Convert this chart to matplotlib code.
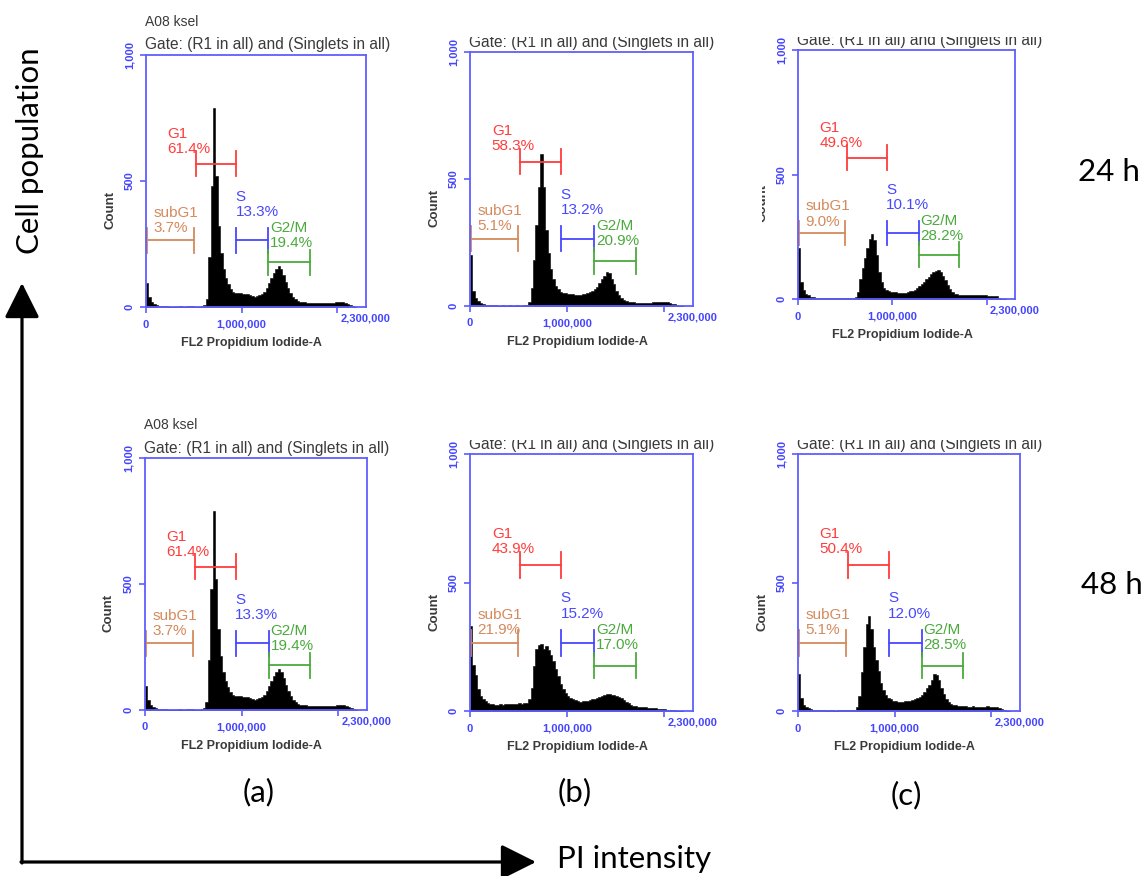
import numpy as np
import matplotlib.pyplot as plt
from matplotlib.transforms import Bbox, TransformedBbox

W, H = 1145, 876

# histogram bins: 25,000 wide, 0 .. 2,200,000
edges = np.arange(0, 2200001, 25000)

# counts per bin
hist_a = [95, 40, 18, 10, 6, 4, 3, 2, 2, 1,
          1, 1, 1, 1, 2, 1, 1, 2, 5, 2,
          1, 1, 1, 2, 6, 30, 200, 480, 790, 520,
          320, 215, 150, 115, 90, 70, 58, 55, 57, 55,
          52, 50, 52, 46, 44, 41, 43, 46, 50, 60,
          75, 95, 115, 135, 152, 163, 150, 128, 100, 75,
          55, 40, 30, 24, 21, 19, 18, 17, 16, 16,
          15, 15, 14, 15, 14, 15, 15, 16, 17, 19,
          20, 21, 19, 16, 11, 6, 2, 0]

hist_b24 = [200, 60, 30, 20, 12, 8, 5, 3, 2, 2,
            2, 1, 1, 2, 1, 1, 2, 1, 1, 2,
            1, 1, 2, 3, 15, 70, 180, 320, 470, 600,
            470, 300, 210, 145, 105, 80, 65, 56, 52, 50,
            49, 48, 46, 44, 43, 44, 46, 48, 50, 55,
            60, 66, 75, 90, 105, 120, 132, 128, 105, 85,
            60, 42, 30, 24, 19, 16, 15, 14, 13, 13,
            12, 13, 12, 13, 13, 14, 14, 15, 16, 16,
            15, 14, 12, 9, 6, 3, 1, 0]

hist_c24 = [205, 68, 35, 22, 15, 10, 8, 6, 5, 5,
            4, 5, 4, 4, 5, 4, 4, 5, 4, 4,
            4, 5, 4, 5, 8, 30, 80, 125, 165, 205,
            240, 262, 235, 175, 110, 70, 45, 36, 31, 29,
            28, 27, 26, 25, 25, 26, 28, 31, 34, 38,
            44, 52, 60, 70, 80, 90, 100, 108, 114, 117,
            110, 92, 75, 55, 40, 28, 22, 19, 17, 16,
            16, 16, 15, 16, 16, 15, 16, 16, 15, 15,
            14, 14, 13, 13, 11, 4, 0, 0]

hist_b48 = [330, 180, 140, 85, 60, 48, 38, 30, 27, 26,
            25, 24, 26, 25, 27, 26, 28, 27, 29, 28,
            30, 28, 30, 32, 45, 90, 175, 240, 255, 262,
            240, 252, 238, 218, 195, 165, 135, 105, 85, 70,
            60, 52, 46, 41, 38, 36, 37, 38, 40, 42,
            45, 48, 52, 56, 60, 63, 65, 66, 64, 63,
            60, 56, 50, 42, 35, 30, 25, 21, 19, 17,
            16, 15, 14, 13, 12, 11, 10, 9, 8, 7,
            6, 5, 4, 3, 2, 1, 0, 0]

hist_c48 = [145, 50, 25, 15, 10, 6, 4, 3, 2, 2,
            2, 2, 1, 2, 2, 1, 2, 2, 3, 2,
            2, 2, 2, 3, 15, 60, 150, 250, 340, 368,
            320, 250, 200, 155, 110, 80, 62, 52, 46, 40,
            37, 36, 35, 36, 37, 38, 40, 42, 45, 50,
            56, 64, 75, 88, 100, 120, 145, 140, 120, 90,
            65, 48, 36, 28, 24, 22, 20, 19, 18, 18,
            17, 17, 18, 17, 17, 16, 17, 17, 18, 17,
            17, 16, 15, 12, 8, 3, 0, 0]

# gate percentages: subG1, G1, S, G2/M
pct_a = [3.7, 61.4, 13.3, 19.4]
pct_b24 = [5.1, 58.3, 13.2, 20.9]
pct_c24 = [9.0, 49.6, 10.1, 28.2]
pct_b48 = [21.9, 43.9, 15.2, 17.0]
pct_c48 = [5.1, 50.4, 12.0, 28.5]

gate_names = ['subG1', 'G1', 'S', 'G2/M']
gate_lo = [10000, 520000, 940000, 1280000]
gate_hi = [500000, 940000, 1280000, 1710000]
gate_y = [265, 568, 265, 177]
gate_colors = ['#d48a5c', '#ff3c3c', '#4848ff', '#4aaa3c']
label_x = [75000, 225000, 935000, 1300000]
label_top = [400, 715, 465, 342]

sample_name = 'A08 ksel'
gate_title = 'Gate: (R1 in all) and (Singlets in all)'

frame_blue = '#5e5eff'
tick_blue = '#4444ff'
gray = '#3a3a3a'
FONT = 'Liberation Sans'

fig = plt.figure(figsize=(W / 100, H / 100), dpi=100)


def clip_box(top=None, left=None):
    y1 = 1.0 if top is None else 1 - top / H
    x0 = 0.0 if left is None else left / W
    return TransformedBbox(Bbox.from_extents(x0, 0, 1, y1), fig.transFigure)


def draw_panel(box, counts, pct, show_name, clip_top, clip_left):
    l, t, r, b = box
    ax = fig.add_axes([l / W, 1 - b / H, (r - l) / W, (b - t) / H])
    # step outline as one filled polygon
    xs = np.repeat(edges, 2)[1:-1]
    ys = np.repeat(np.asarray(counts, dtype=float), 2)
    ax.fill_between(xs, ys, 0, facecolor='black', edgecolor='black', lw=0.4)
    ax.set_xlim(0, 2300000)
    ax.set_ylim(0, 1000)
    for s in ax.spines.values():
        s.set_color(frame_blue)
        s.set_linewidth(1.3)
    ax.set_xticks([0, 1000000, 2000000], ['0', '1,000,000', ''])
    ax.set_xticks([2300000], ['2,300,000'], minor=True)
    ax.set_yticks([0, 500, 1000], ['0', '500', '1,000'])
    ax.tick_params(which='both', colors=frame_blue, labelcolor=tick_blue,
                   labelsize=8, length=4, width=1.2)
    ax.tick_params(axis='x', which='minor', length=0)
    ax.tick_params(axis='x', which='both', pad=5)
    ax.tick_params(axis='y', pad=4)
    for lbl in ax.get_xticklabels() + ax.get_xticklabels(minor=True):
        lbl.set_fontweight('bold')
        lbl.set_family(FONT)
    for lbl in ax.get_yticklabels():
        lbl.set_rotation(90)
        lbl.set_va('center')
        lbl.set_ha('right')
        lbl.set_fontweight('bold')
        lbl.set_family(FONT)

    wpx, hpx = r - l, b - t
    cnt = ax.text(-36 / wpx, 0.385, 'Count', transform=ax.transAxes, rotation=90,
                  ha='center', va='center', fontsize=9.5, fontweight='bold',
                  color=gray, family=FONT)
    ax.text(0.48, -36 / hpx, 'FL2 Propidium Iodide-A', transform=ax.transAxes,
            ha='center', va='center', fontsize=9, fontweight='bold',
            color=gray, family=FONT)

    for i in range(4):
        c = gate_colors[i]
        ax.plot([gate_lo[i], gate_hi[i]], [gate_y[i], gate_y[i]], color=c, lw=1.3)
        for xe in (gate_lo[i], gate_hi[i]):
            ax.plot([xe, xe], [gate_y[i] - 50, gate_y[i] + 50], color=c, lw=1.3)
        ax.text(label_x[i], label_top[i], f'{gate_names[i]}\n{pct[i]:.1f}%',
                color=c, ha='left', va='top', fontsize=11, family=FONT,
                linespacing=1.1)

    title = fig.text((l - 1) / W, 1 - (t - 10) / H, gate_title, ha='left', va='center',
                     fontsize=11.2, color=gray, family=FONT)
    if show_name:
        fig.text((l - 1) / W, 1 - (t - 33) / H, sample_name, ha='left', va='center',
                 fontsize=10, color=gray, family=FONT)
    if clip_top is not None or clip_left is not None:
        cb = clip_box(clip_top, clip_left)
        for art in [title, cnt] + ax.get_yticklabels():
            art.set_clip_box(cb)
            art.set_clip_on(True)
    return ax


# (left, top, right, bottom) of each plot box in pixels, plus crop edges
boxes = [(146, 55, 366, 307), (470, 52, 693, 306), (798, 50, 1015, 299),
         (145, 458, 367, 710), (470, 454, 693, 711), (798, 454, 1020, 711)]
crops = [(None, None), (37, None), (37, 762), (None, None), (440, None), (440, None)]
hists = [hist_a, hist_b24, hist_c24, hist_a, hist_b48, hist_c48]
pcts = [pct_a, pct_b24, pct_c24, pct_a, pct_b48, pct_c48]
names = [True, False, False, True, False, False]

for i in range(6):
    draw_panel(boxes[i], hists[i], pcts[i], names[i], crops[i][0], crops[i][1])

# overlay for the big arrows and labels
ov = fig.add_axes([0, 0, 1, 1], zorder=-1)
ov.set_xlim(0, W)
ov.set_ylim(H, 0)
ov.axis('off')
arw = dict(arrowstyle='-|>,head_length=0.9,head_width=0.45', lw=2.3,
           color='black', mutation_scale=24, shrinkA=0, shrinkB=0)
ov.annotate('', xy=(22, 283), xytext=(22, 863), arrowprops=arw)
ov.annotate('', xy=(536, 862), xytext=(21, 862), arrowprops=arw)

big = dict(family='Lato', fontsize=22.5, color='black', ha='center', va='center')
ov.text(30, 151, 'Cell population', rotation=90, **big)
ov.text(634, 859, 'PI intensity', **big)
ov.text(1109, 172, '24 h', **big)
ov.text(1112, 585, '48 h', **big)
ov.text(259, 792, '(a)', **big)
ov.text(575, 792, '(b)', **big)
ov.text(906, 795, '(c)', **big)

fig.savefig('out.png', dpi=100)
